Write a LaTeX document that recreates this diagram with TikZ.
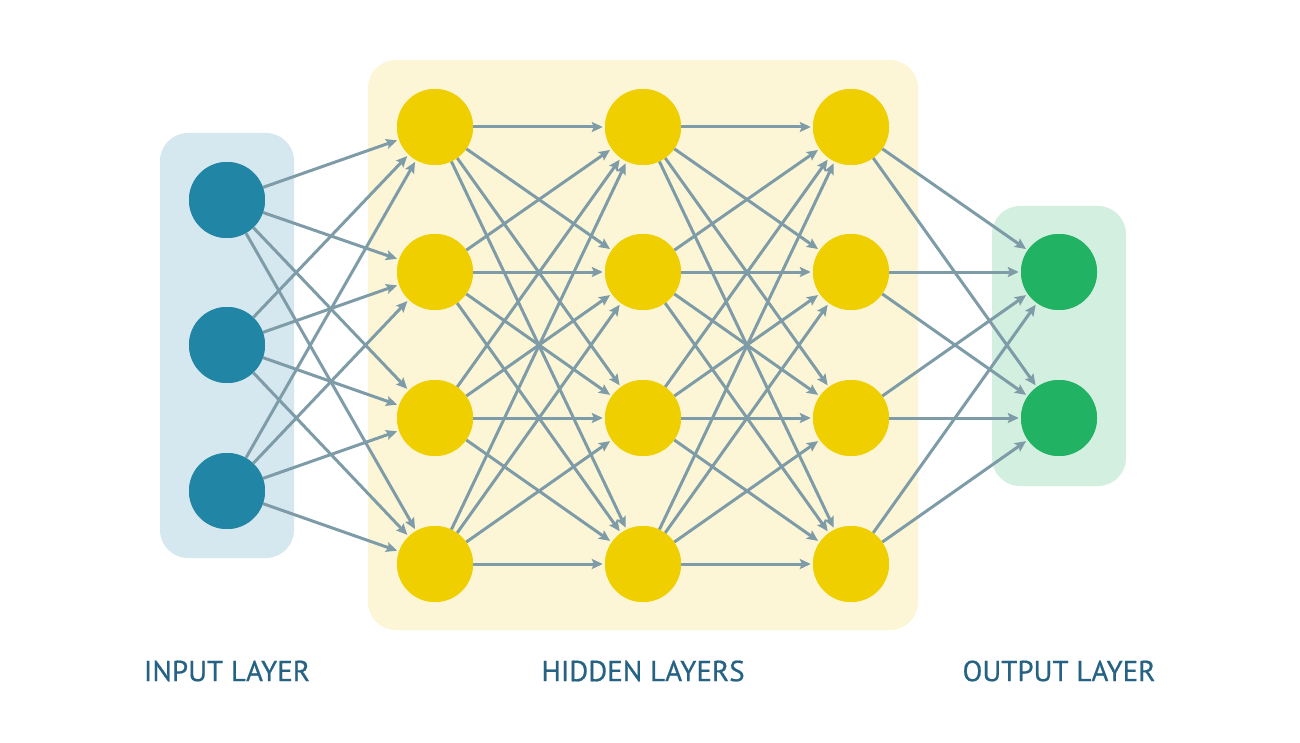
\documentclass[tikz,border=0pt]{standalone}
\usepackage{fontspec}
\setmainfont{PT Sans}
\newfontfamily\labfont[FakeBold=0.6]{PT Sans}
\usetikzlibrary{arrows.meta}
\definecolor{inC}{HTML}{2185A5}
\definecolor{inBg}{HTML}{D5E8EF}
\definecolor{hidC}{HTML}{F0CF00}
\definecolor{hidBg}{HTML}{FCF6D6}
\definecolor{outC}{HTML}{21B263}
\definecolor{outBg}{HTML}{D3EFE0}
\definecolor{edgeC}{HTML}{7E9CA8}
\definecolor{labC}{HTML}{266283}
\tikzset{
  neuron/.style={circle,minimum size=76pt,inner sep=0pt,draw=none},
  inN/.style={neuron,fill=inC},
  hidN/.style={neuron,fill=hidC},
  outN/.style={neuron,fill=outC},
  conn/.style={draw=edgeC,line width=3pt,shorten >=2pt,-{Stealth[length=11pt,width=10pt,inset=2pt]}},
  layerlabel/.style={text=labC,font=\labfont\fontsize{29}{32}\selectfont,inner sep=0pt},
  panel/.style={rounded corners=28pt,draw=none}
}
\begin{document}
\begin{tikzpicture}[x=1pt,y=-1pt]
\useasboundingbox (0,0) rectangle (1300,743);
\fill[white] (0,0) rectangle (1300,743);
% panels
\fill[panel,fill=inBg] (160,133) rectangle (294,558);
\fill[panel,fill=hidBg] (368,60) rectangle (918,630);
\fill[panel,fill=outBg] (992,206) rectangle (1126,486);
% nodes
\foreach \i/\y in {1/200,2/345,3/491} \node[inN] (i\i) at (227,\y) {};
\foreach \l/\x in {1/435,2/643,3/851}
  \foreach \j/\y in {1/127,2/272,3/418,4/564}
    \node[hidN] (h\l\j) at (\x,\y) {};
\foreach \k/\y in {1/272,2/418} \node[outN] (o\k) at (1059,\y) {};
% connectors
\foreach \i in {1,2,3}
  \foreach \j in {1,2,3,4}
    \draw[conn] (i\i) -- (h1\j);
\foreach \a in {1,2,3,4}
  \foreach \b in {1,2,3,4} {
    \draw[conn] (h1\a) -- (h2\b);
    \draw[conn] (h2\a) -- (h3\b);
  }
\foreach \a in {1,2,3,4}
  \foreach \k in {1,2}
    \draw[conn] (h3\a) -- (o\k);
% redraw nodes on top of lines
\foreach \i/\y in {1/200,2/345,3/491} \fill[inC] (227,\y) circle (38);
\foreach \x in {435,643,851}
  \foreach \y in {127,272,418,564}
    \fill[hidC] (\x,\y) circle (38);
\foreach \y in {272,418} \fill[outC] (1059,\y) circle (38);
% labels
\node[layerlabel] (lin) at (227,671) {INPUT LAYER};
\node[layerlabel] (lhid) at (643,671) {HIDDEN LAYERS};
\node[layerlabel] (lout) at (1059,671) {OUTPUT LAYER};
\end{tikzpicture}
\end{document}
